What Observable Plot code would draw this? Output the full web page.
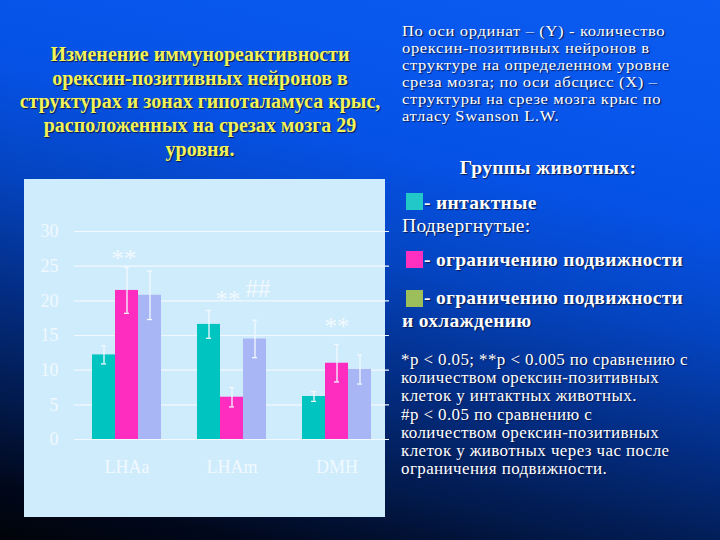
<!DOCTYPE html>
<html>
<head>
<meta charset="utf-8">
<script src="https://cdn.jsdelivr.net/npm/d3@7"></script>
<script src="https://cdn.jsdelivr.net/npm/@observablehq/plot@0.6"></script>
<style>
  html, body { margin: 0; padding: 0; }
  body {
    width: 720px; height: 540px; position: relative; overflow: hidden;
    background: linear-gradient(193deg, #0b5cf2 0%, #0652e6 32%, #0444c0 48%, #032e86 64%, #021a4c 80%, #01081c 92%, #000308 100%);
    font-family: "Liberation Serif", "DejaVu Serif", serif;
  }
  .abs { position: absolute; white-space: nowrap; }
  #title {
    left: 0; width: 400px; top: 43px; text-align: center;
    color: #f4f45a; font-weight: bold; font-size: 20px; line-height: 23.7px;
    text-shadow: 1px 1px 1px #0a1a50;
  }
  #desc { left: 402px; top: 22px; color: #fff; font-size: 15.3px; letter-spacing: 0.6px; line-height: 17px; transform: scaleX(1.08); transform-origin: left top; text-shadow: 1px 1px 1px #0a1a50; }
  #groupsHead { left: 440px; width: 216px; top: 158px; text-align: center; color: #fff; font-weight: bold; font-size: 19.5px; letter-spacing: 0.3px; line-height: 20px; text-shadow: 1px 1px 1px #0a1a50; }
  .sw { position: absolute; width: 17px; height: 17px; }
  .lt { position: absolute; white-space: nowrap; color: #fff; font-size: 19.5px; letter-spacing: 0.3px; line-height: 20px; text-shadow: 1px 1px 1px #0a1a50; }
  .b { font-weight: bold; }
  #notes { left: 401px; top: 351px; color: #fff; font-size: 16.3px; letter-spacing: 0.4px; line-height: 18.2px; transform: scaleX(1.04); transform-origin: left top; text-shadow: 1px 1px 1px #0a1a50; }
  #panel { position: absolute; left: 24px; top: 179px; width: 361px; height: 338px; background: #cfecfc; }
  #chart { position: absolute; left: 24px; top: 179px; }
</style>
</head>
<body>
<div id="title" class="abs">Изменение иммунореактивности<br>орексин-позитивных нейронов в<br>структурах и зонах гипоталамуса крыс,<br>расположенных на срезах мозга 29<br>уровня.</div>
<div id="desc" class="abs">По оси ординат – (Y) - количество<br>орексин-позитивных нейронов в<br>структуре на определенном уровне<br>среза мозга; по оси абсцисс (X) –<br>структуры на срезе мозга крыс по<br>атласу Swanson L.W.</div>
<div id="groupsHead" class="abs">Группы животных:</div>
<div id="legend"></div>
<div id="notes" class="abs">*p &lt; 0.05; **p &lt; 0.005 по сравнению с<br>количеством орексин-позитивных<br>клеток у интактных животных.<br>#p &lt; 0.05 по сравнению с<br>количеством орексин-позитивных<br>клеток у животных через час после<br>ограничения подвижности.</div>
<div id="panel"></div>
<div id="chart"></div>
<script>
// ---- data ----
const groups = ["LHAa", "LHAm", "DMH"];
const series = ["интактные", "ограничение подвижности", "ограничение подвижности и охлаждение"];
const intact = [12.2, 16.6, 6.2];
const restrained = [21.5, 6.1, 11.0];
const restrainedCooled = [20.8, 14.5, 10.1];
const errIntact = [1.3, 2.0, 0.7];
const errRestrained = [3.3, 1.4, 2.7];
const errCooled = [3.5, 2.7, 2.1];
const yTicks = [0, 5, 10, 15, 20, 25, 30];
const barColors = ["#00c4c0", "#ff2dbf", "#a9b6f6"];
// significance marks
const annGroup = ["LHAa", "LHAm", "LHAm", "DMH"];
const annSeries = [1, 1, 2, 1];
const annText = ["**", "**", "##", "**"];
const annY = [26.0, 20.1, 21.75, 16.2];
const annDx = [-3, -4, 3, 0];
// legend
const legendColors = ["#22c8c8", "#ff30c0", "#9cbf5c"];
const legendTexts = ["- интактные", "- ограничению подвижности", "- ограничению подвижности"];

// ---- legend (HTML) ----
const leg = document.getElementById("legend");
const swTop = [193, 251, 290];
const txtTop = [193, 250, 288];
legendColors.forEach((c, i) => {
  const s = document.createElement("div");
  s.className = "sw"; s.style.left = "406px"; s.style.top = swTop[i] + "px"; s.style.background = c;
  leg.appendChild(s);
  const t = document.createElement("div");
  t.className = "lt b"; t.style.left = "424px"; t.style.top = txtTop[i] + "px"; t.textContent = legendTexts[i];
  leg.appendChild(t);
});
const sub = document.createElement("div");
sub.className = "lt"; sub.style.left = "402px"; sub.style.top = "216px"; sub.textContent = "Подвергнутые:";
leg.appendChild(sub);
const tail = document.createElement("div");
tail.className = "lt b"; tail.style.left = "402px"; tail.style.top = "311px"; tail.textContent = "и охлаждению";
leg.appendChild(tail);

// ---- chart ----
const vals = [intact, restrained, restrainedCooled];
const errs = [errIntact, errRestrained, errCooled];
const data = groups.flatMap((g, i) => series.map((s, j) => ({
  group: g, series: s, value: vals[j][i], lo: vals[j][i] - errs[j][i], hi: vals[j][i] + errs[j][i]
})));
const ann = annText.map((t, k) => ({group: annGroup[k], series: series[annSeries[k]], y: annY[k], text: t, dx: annDx[k]}));

const light = "#f1f9ff";
const chart = Plot.plot({
  width: 365, height: 338,
  marginLeft: 50, marginRight: 0, marginTop: 52, marginBottom: 78,
  style: {background: "transparent", fontFamily: "Liberation Serif, serif", fontSize: "18px", color: light, overflow: "visible"},
  fx: {domain: groups, padding: 0, label: null, axis: "bottom", tickSize: 0, tickPadding: 21},
  x: {domain: series, axis: null, paddingInner: 0, paddingOuter: 0.75},
  y: {domain: [0, 30], ticks: yTicks, label: null, tickSize: 0, tickPadding: 16},
  color: {domain: series, range: barColors},
  marks: [
    Plot.ruleY(yTicks, {stroke: light, strokeWidth: 1.2}),
    Plot.barY(data, {fx: "group", x: "series", y: "value", fill: "series"}),
    Plot.ruleX(data, {fx: "group", x: "series", y1: "lo", y2: "hi", stroke: light, strokeWidth: 1.3}),
    Plot.tickY(data, {fx: "group", x: "series", y: "lo", stroke: light, strokeWidth: 1.3, inset: 9}),
    Plot.tickY(data, {fx: "group", x: "series", y: "hi", stroke: light, strokeWidth: 1.3, inset: 9}),
    ...ann.map(a => Plot.text([a], {fx: "group", x: "series", y: "y", text: "text", dx: a.dx, fontSize: 25, fill: light}))
  ]
});
document.getElementById("chart").appendChild(chart);
</script>
</body>
</html>
